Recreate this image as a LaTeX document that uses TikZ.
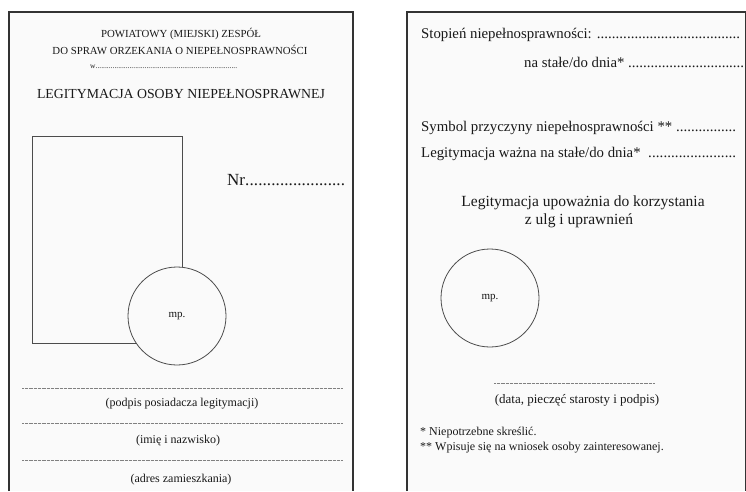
\documentclass[tikz,border=0pt]{standalone}
\usepackage{fontspec}
\setmainfont{Liberation Serif}
\newcommand\kropki{\xleaders\hbox{.}\hfill}
\newcommand\rozmiar[1]{\fontsize{#1}{#1}\selectfont}
\tikzset{
	napis/.style={inner sep=0pt, text=black!90},
	pieczec/.style={circle, draw=black!70, line width=0.8pt, fill=black!2, minimum size=98pt, inner sep=0pt, text=black!90, font=\rozmiar{11}},
	linia/.style={draw=black!50, line width=0.6pt, dash pattern=on 0.4pt off 0.9pt},
}
\begin{document}
\begin{tikzpicture}[x=1pt, y=-1pt]
		\useasboundingbox (0,0) rectangle (746,491);
		\fill[white] (0,0) rectangle (746,491);

		\coordinate (a1) at (9, 491);
		\coordinate (a2) at (9, 12);
		\coordinate (a3) at (353, 12);
		\coordinate (a4) at (353, 491);

		\coordinate (b1) at (407, 491);
		\coordinate (b2) at (407, 12);
		\coordinate (b3) at (746, 12);

		% karty
		\filldraw[line width=1.2pt, draw=black!80, fill=black!2] (a1) -- (a2) -- (a3) -- (a4);
		\filldraw[line width=1.2pt, draw=black!80, fill=black!2] (b1) -- (b2) -- (b3) -- (746, 491);

		% strona lewa
		\node[napis, anchor=base, font=\rozmiar{10.8}] (zespol) at (181, 37) {POWIATOWY (MIEJSKI) ZESPÓŁ};
		\node[napis, anchor=base, font=\rozmiar{10.8}] (orzek) at (180, 54) {DO SPRAW ORZEKANIA O NIEPEŁNOSPRAWNOŚCI};
		\node[napis, anchor=base west, font=\rozmiar{7.5}] (miasto) at (90, 68) {\makebox[147pt][l]{w\kropki}};
		\node[napis, anchor=base, font=\rozmiar{13.8}] (tytul) at (181, 98) {LEGITYMACJA OSOBY NIEPEŁNOSPRAWNEJ};
		\node[napis, anchor=base west, font=\rozmiar{17}] (numer) at (227, 185) {\makebox[118pt][l]{Nr\kropki}};

		\draw[black!70, line width=0.9pt] (32, 136) rectangle (182, 343);
		\node[pieczec] (mp1) at (177, 316) {mp.};

		\coordinate (p1) at (22, 388);
		\coordinate (p2) at (343, 388);
		\coordinate (q1) at (22, 423);
		\coordinate (q2) at (343, 423);
		\coordinate (r1) at (22, 460);
		\coordinate (r2) at (343, 460);
		\draw[linia] (p1) -- (p2);
		\draw[linia] (q1) -- (q2);
		\draw[linia] (r1) -- (r2);

		\node[napis, anchor=base, font=\rozmiar{12}] (podpis) at (182, 406) {(podpis posiadacza legitymacji)};
		\node[napis, anchor=base, font=\rozmiar{12}] (imie) at (178, 443) {(imię i nazwisko)};
		\node[napis, anchor=base, font=\rozmiar{12}] (adres) at (181, 482) {(adres zamieszkania)};

		% strona prawa
		\node[napis, anchor=base west, font=\rozmiar{14.8}] (stopien) at (421, 38) {\makebox[319pt][l]{Stopień niepełnosprawności: \kropki}};
		\node[napis, anchor=base west, font=\rozmiar{14.8}] (stale) at (524, 67) {\makebox[220pt][l]{na stałe/do dnia* \kropki}};
		\node[napis, anchor=base west, font=\rozmiar{14.8}] (symbol) at (421, 131) {\makebox[315pt][l]{Symbol przyczyny niepełnosprawności ** \kropki}};
		\node[napis, anchor=base west, font=\rozmiar{14.8}] (wazna) at (421, 157) {\makebox[315pt][l]{Legitymacja ważna na stałe/do dnia* \ \kropki}};
		\node[napis, anchor=base, font=\rozmiar{15.5}] (ulgi1) at (583, 206) {Legitymacja upoważnia do korzystania};
		\node[napis, anchor=base, font=\rozmiar{15.5}] (ulgi2) at (579, 224) {z ulg i uprawnień};

		\node[pieczec] (mp2) at (490, 298) {mp.};

		\coordinate (s1) at (494, 383);
		\coordinate (s2) at (655, 383);
		\draw[linia] (s1) -- (s2);
		\node[napis, anchor=base, font=\rozmiar{13}] (starosta) at (577, 403) {(data, pieczęć starosty i podpis)};

		\node[napis, anchor=base west, font=\rozmiar{12}] (przyp1) at (420, 435) {* Niepotrzebne skreślić.};
		\node[napis, anchor=base west, font=\rozmiar{12}] (przyp2) at (420, 450) {** Wpisuje się na wniosek osoby zainteresowanej.};
	\end{tikzpicture}
\end{document}
